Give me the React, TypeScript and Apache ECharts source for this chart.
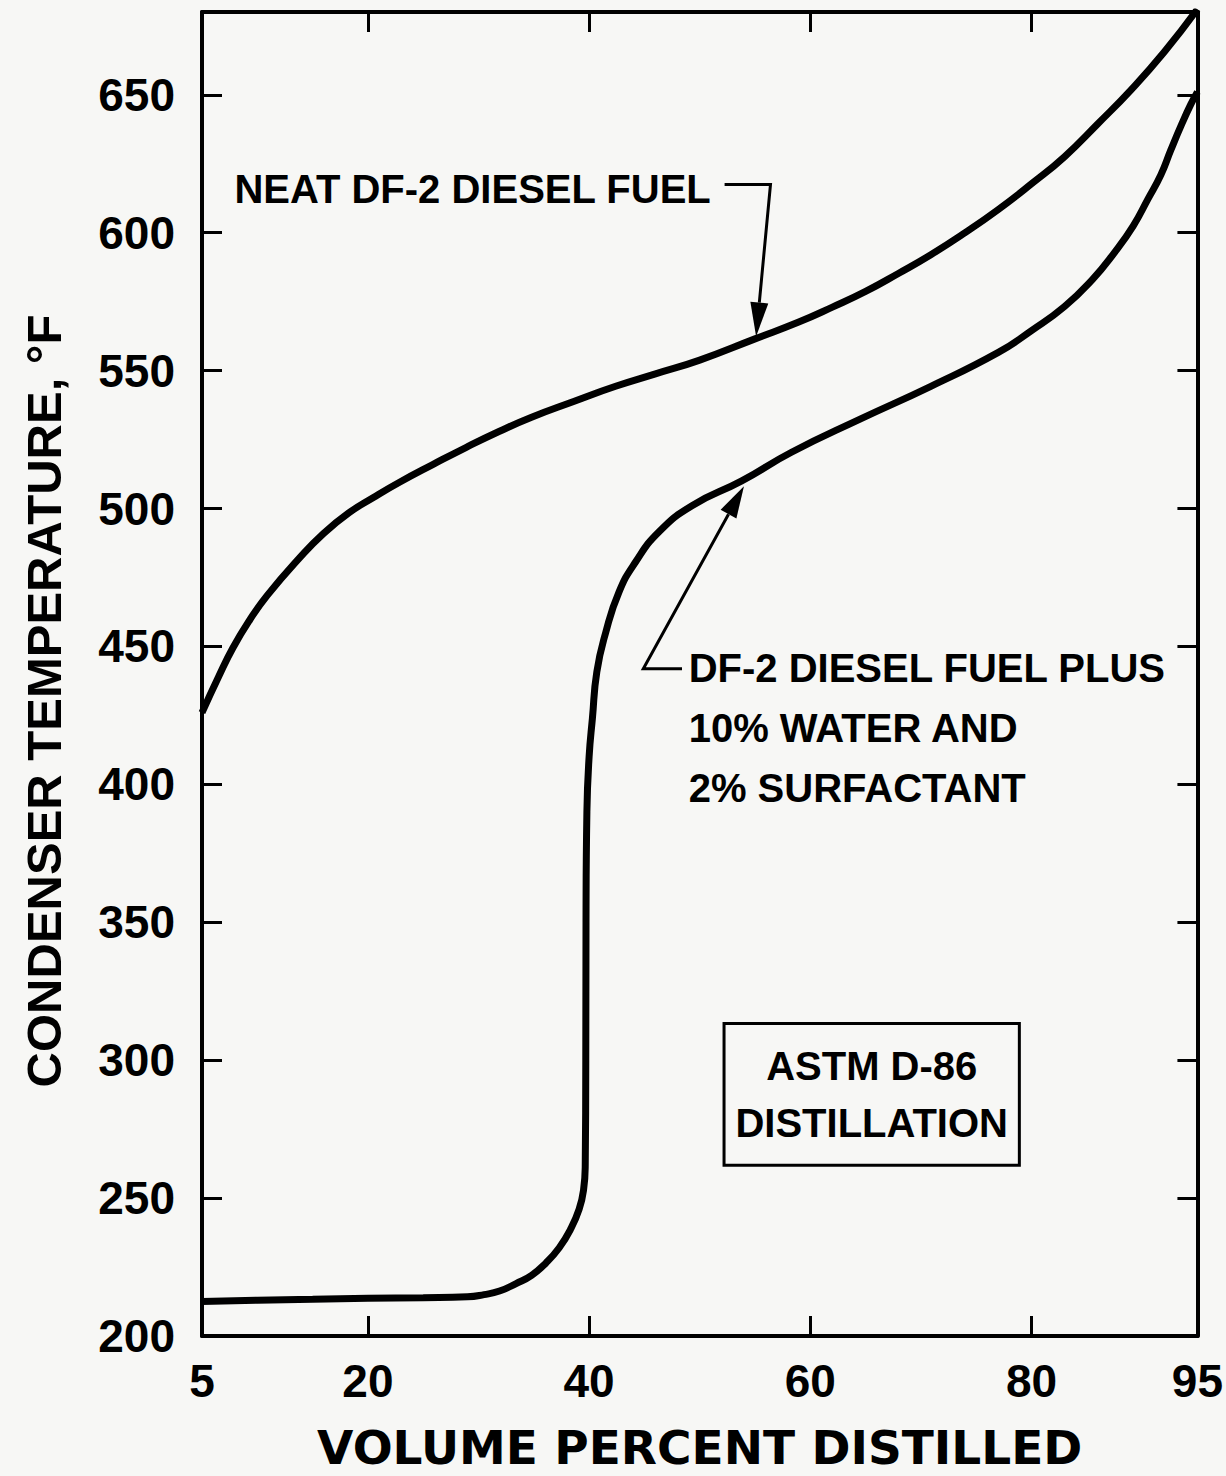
import React, { useEffect, useRef } from "react";
import * as echarts from "echarts";

// ---- axis ticks / labels ----
const xTickLabels = [5, 20, 40, 60, 80, 95];
const xTickMarks = [20, 40, 60, 80];
const yTickLabels = [200, 250, 300, 350, 400, 450, 500, 550, 600, 650];
const yTickMarks = [250, 300, 350, 400, 450, 500, 550, 600, 650];

// ---- series: [volume % distilled, condenser temperature °F] ----
const neatDF2: [number, number][] = [
  [5, 426], [6.5, 439], [7.8, 449.5], [9.3, 459.5], [10.9, 468.5], [13.8, 482],
  [16, 491], [18.3, 498.5], [20.5, 504], [22.9, 509.6], [25.9, 516],
  [28.9, 522.2], [31.9, 528], [34.8, 533.1], [38.6, 538.8], [42.4, 544.3],
  [46, 548.8], [50, 553.8], [55, 561.5], [58.9, 567.5], [62, 573],
  [65, 578.7], [68, 585.3], [70.9, 592], [74, 600], [77, 608.4],
  [80, 617.7], [83, 627.6], [86, 639.5], [89, 651.8], [92, 665.5], [95, 681],
];

const df2Emulsion: [number, number][] = [
  [5, 212.5], [10, 213], [15, 213.3], [20, 213.7], [25, 213.9], [29, 214.2],
  [30.5, 215], [31.9, 216.3], [33.4, 219], [34.8, 222], [36.1, 226.5],
  [37.3, 232], [38.3, 238.5], [39.1, 246], [39.5, 253], [39.65, 262],
  [39.7, 300], [39.72, 350], [39.8, 390], [40.0, 410], [40.3, 424],
  [40.7, 440.8], [41.5, 455], [42.7, 469.7], [44.2, 480.6], [46.3, 491.5],
  [49.3, 501], [53.8, 510], [58.3, 520.4], [64.5, 532.4], [70.9, 544.3],
  [77, 556.6], [80, 564.5], [83, 573.3], [85.5, 583], [87.5, 592.8],
  [89.2, 602.5], [90.5, 612], [91.7, 621], [92.6, 630], [93.6, 639.5],
  [94.4, 646.5], [95, 651],
];

// ---- annotations (data coordinates) ----
const neatLabel = "NEAT DF-2 DIESEL FUEL";
const neatLabelAnchor: [number, number] = [51.0, 616];
const neatArrow: [number, number][] = [[52.25, 617.5], [56.4, 617.5], [55.1, 562.4]];

const emulsionLabel = ["DF-2 DIESEL FUEL PLUS", "10% WATER AND", "2% SURFACTANT"];
const emulsionLabelAnchor: [number, number] = [49.0, 442];
const emulsionArrow: [number, number][] = [[48.4, 441.9], [44.9, 441.9], [54.0, 508.1]];

const boxLabel = ["ASTM D-86", "DISTILLATION"];
const boxCorners: [number, number][] = [[52.2, 313.3], [78.9, 261.9]];

const SANS = "'Liberation Sans', Arial, sans-serif";
const WIDE = "'DejaVu Sans', sans-serif";
const BG = "#f7f7f5";

export default function App() {
  const ref = useRef<HTMLDivElement>(null);

  useEffect(() => {
    document.body.style.margin = "0";
    document.body.style.background = BG;
    const el = ref.current!;
    const chart = echarts.init(el, null, { renderer: "svg" });

    const axisLine = { show: true, lineStyle: { color: "#000", width: 4 } };
    const tickStyle = { color: "#000", width: 3 };
    const labelStyle = {
      color: "#000",
      fontFamily: SANS,
      fontWeight: "bold",
      fontSize: 46,
    };

    const option: any = {
      animation: false,
      backgroundColor: BG,
      grid: { left: 202, right: 26, top: 12, bottom: 138, containLabel: false },
      xAxis: [
        {
          type: "value",
          min: 5,
          max: 95,
          position: "bottom",
          axisLine,
          axisTick: { show: true, inside: true, length: 20, lineStyle: tickStyle, customValues: xTickMarks },
          axisLabel: { ...labelStyle, margin: 22, customValues: xTickLabels },
          splitLine: { show: false },
          name: "VOLUME PERCENT DISTILLED",
          nameLocation: "middle",
          nameGap: 88,
          nameTextStyle: { color: "#000", fontFamily: WIDE, fontWeight: "bold", fontSize: 47, verticalAlign: "top" },
        },
        {
          type: "value",
          min: 5,
          max: 95,
          position: "top",
          axisLine,
          axisTick: { show: true, inside: true, length: 20, lineStyle: tickStyle, customValues: xTickMarks },
          axisLabel: { show: false },
          splitLine: { show: false },
        },
      ],
      yAxis: [
        {
          type: "value",
          min: 200,
          max: 680,
          position: "left",
          axisLine,
          axisTick: { show: true, inside: true, length: 20, lineStyle: tickStyle, customValues: yTickMarks },
          axisLabel: { ...labelStyle, margin: 27, customValues: yTickLabels },
          splitLine: { show: false },
          name: "CONDENSER TEMPERATURE, °F",
          nameLocation: "middle",
          nameGap: 134,
          nameTextStyle: {
            color: "#000",
            fontFamily: SANS,
            fontWeight: "bold",
            fontSize: 49,
            padding: [0, 54, 0, 0],
          },
        },
        {
          type: "value",
          min: 200,
          max: 680,
          position: "right",
          axisLine,
          axisTick: { show: true, inside: true, length: 20, lineStyle: tickStyle, customValues: yTickMarks },
          axisLabel: { show: false },
          splitLine: { show: false },
        },
      ],
      series: [
        {
          name: "Neat DF-2 diesel fuel",
          type: "line",
          data: neatDF2,
          showSymbol: false,
          smooth: 0.5,
          lineStyle: { color: "#000", width: 7 },
          z: 3,
        },
        {
          name: "DF-2 + 10% water + 2% surfactant",
          type: "line",
          data: df2Emulsion,
          showSymbol: false,
          smooth: 0.5,
          lineStyle: { color: "#000", width: 7 },
          z: 3,
        },
      ],
    };
    chart.setOption(option);

    const toPx = (p: [number, number]) => chart.convertToPixel({ seriesIndex: 0 }, p) as number[];

    const arrow = (pts: [number, number][], L: number, W: number) => {
      const px = pts.map(toPx);
      const tip = px[px.length - 1];
      const prev = px[px.length - 2];
      const dx = tip[0] - prev[0];
      const dy = tip[1] - prev[1];
      const len = Math.hypot(dx, dy);
      const ux = dx / len;
      const uy = dy / len;
      const base = [tip[0] - ux * L, tip[1] - uy * L];
      const shaft = [...px.slice(0, -1), base];
      return [
        { type: "polyline", shape: { points: shaft }, style: { stroke: "#000", lineWidth: 3, fill: null }, z: 10 },
        {
          type: "polygon",
          shape: { points: [tip, [base[0] - uy * W, base[1] + ux * W], [base[0] + uy * W, base[1] - ux * W]] },
          style: { fill: "#000" },
          z: 10,
        },
      ];
    };

    const txt = (text: string, x: number, y: number, align: string, size: number) => ({
      type: "text",
      x,
      y,
      z: 10,
      style: {
        text,
        fill: "#000",
        fontFamily: SANS,
        fontWeight: "bold",
        fontSize: size,
        align,
        verticalAlign: "middle",
      },
    });

    const graphics: any[] = [];
    const nl = toPx(neatLabelAnchor);
    graphics.push(txt(neatLabel, nl[0], nl[1], "right", 40));
    graphics.push(...arrow(neatArrow, 34, 9));

    const el0 = toPx(emulsionLabelAnchor);
    emulsionLabel.forEach((t, i) => graphics.push(txt(t, el0[0], el0[1] + i * 60, "left", 40)));
    graphics.push(...arrow(emulsionArrow, 32, 9));

    const b0 = toPx(boxCorners[0]);
    const b1 = toPx(boxCorners[1]);
    graphics.push({
      type: "rect",
      shape: { x: b0[0], y: b0[1], width: b1[0] - b0[0], height: b1[1] - b0[1] },
      style: { stroke: "#000", lineWidth: 3, fill: "transparent" },
      z: 10,
    });
    const bcx = (b0[0] + b1[0]) / 2;
    const bcy = (b0[1] + b1[1]) / 2;
    boxLabel.forEach((t, i) => graphics.push(txt(t, bcx, bcy + (i - 0.5) * 57, "center", 40)));

    chart.setOption({ graphic: graphics });

    return () => chart.dispose();
  }, []);

  return <div ref={ref} style={{ width: 1226, height: 1476 }} />;
}
